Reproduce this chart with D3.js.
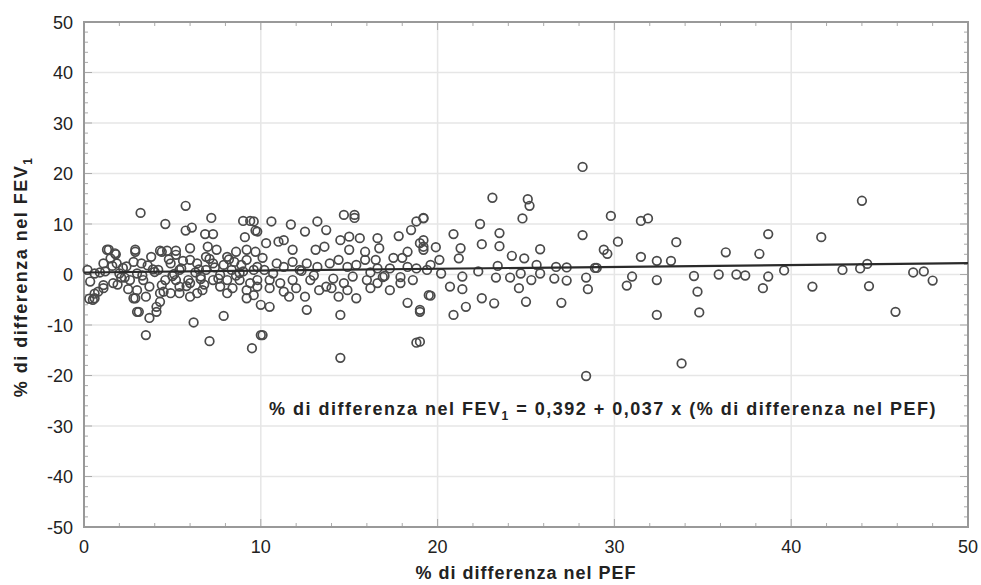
<!DOCTYPE html>
<html>
<head>
<meta charset="utf-8">
<script src="https://cdnjs.cloudflare.com/ajax/libs/d3/7.8.5/d3.min.js"></script>
<style>
  body { margin: 0; background: #fff; }
  text { font-family: "Liberation Sans", Arial, sans-serif; fill: #222; }
</style>
</head>
<body>
<svg id="chart" width="981" height="585"></svg>
<script>

// % difference in PEF (x) and FEV1 (y)
const pefDiff = [
  3.2, 5.75, 4.6, 5.75, 6.1, 7.2, 6.85, 7.3, 9.0, 9.4, 9.1, 9.7, 7.0, 1.4, 1.8, 2.9, 4.3, 5.2, 4.7,
  0.6, 1.1, 1.9, 2.9, 3.0, 3.7, 4.1, 3.5, 6.2, 7.9, 7.1, 9.5, 10.0, 6.4, 6.7, 8.1, 9.2, 4.3, 4.9, 5.4,
  10.6, 9.6, 9.8, 11.7, 12.5, 13.2, 13.7, 14.7, 15.3, 15.3, 17.8, 18.5, 18.8, 19.2,
  10.3, 11.0, 11.3, 11.8, 13.1, 13.6, 14.5, 15.0, 15.6, 15.0, 15.9, 16.6, 16.7, 16.5, 17.5, 18.0, 18.3, 19.0, 19.2,
  10.0, 10.5, 9.6, 11.6, 12.6, 12.5, 14.5, 14.4, 15.4, 16.2, 17.3, 18.3, 19.0, 19.5, 10.1, 14.5, 18.8,
  13.7, 13.3, 12.8, 16.0, 16.9, 17.9, 10.1, 10.9,
  28.2, 23.1, 25.1, 25.2, 19.2, 24.8, 22.4, 28.2, 20.9, 23.5, 22.5, 23.5, 21.3, 19.9, 19.2, 19.2,
  25.8, 24.2, 24.9, 21.2, 25.6, 23.4, 26.7, 27.3, 28.9, 20.1, 19.6, 22.3, 20.2, 21.4, 23.3, 24.7, 24.1,
  25.3, 25.8, 26.6, 27.3, 28.4, 28.5, 20.7, 21.4, 24.6, 19.6, 22.5, 23.2, 25.0, 27.0, 21.6, 20.9, 19.0, 19.0, 28.4,
  29.8, 31.5, 31.9, 30.2, 29.4, 29.6, 33.5, 31.5, 32.4, 33.2, 36.3, 38.2, 38.7, 29.0, 39.6,
  31.0, 30.7, 32.4, 34.5, 34.7, 34.8, 32.4, 35.9, 36.9, 37.4, 38.7, 38.4, 33.8,
  44.0, 41.7, 41.2, 42.9, 43.9, 44.3, 44.4, 46.9, 47.5, 48.0, 45.9,
  1.3, 1.75, 1.1, 1.85, 0.6, 1.2, 2.0, 0.35, 1.1, 1.65, 0.8, 0.5, 2.9, 2.8, 3.25, 3.0, 2.6, 3.35, 3.0, 3.7,
  2.8, 3.5, 3.8, 4.2, 4.4, 4.9, 5.2, 5.5, 4.6, 5.2, 5.9, 4.5, 5.4, 6.0, 4.3, 6.0, 6.0, 4.1, 3.1,
  7.5, 8.1, 8.6, 9.2, 9.7, 7.3, 7.9, 8.5, 9.2, 6.9, 7.7, 8.35, 9.0, 9.6, 7.3, 8.1, 8.8, 9.4, 7.7, 8.4,
  9.2, 9.8, 6.4, 6.6, 6.0, 5.4, 6.9,
  9.8, 10.2, 10.7, 11.3, 11.8, 12.2, 12.6, 13.2, 13.9, 14.4, 14.9, 15.4, 15.9, 9.8, 10.5, 11.1, 11.8,
  12.0, 11.3, 10.5, 14.1, 14.7, 15.2, 14.0, 14.9, 16.6, 17.3, 18.3, 18.8, 19.4, 17.9, 18.6, 16.6,
  0.2, 0.3, 0.6, 0.9, 2.3, 2.2, 1.5, 4.0, 5.0, 6.5, 7.6, 8.8, 12.3, 13.0, 16.2, 17.0,
  2.4, 3.9, 4.8, 5.6, 6.3, 7.1, 8.2, 2.1, 3.3, 4.4, 5.1, 6.8, 7.4, 8.6, 1.6, 2.5, 3.6, 5.8, 6.6, 8.9
];
const fevDiff = [
  12.2, 13.6, 10.0, 8.7, 9.3, 11.2, 8.0, 8.0, 10.6, 10.6, 7.4, 8.7, 5.5, 4.9, 4.0, 4.9, 4.7, 4.7, 4.7,
  -4.7, -2.7, -2.0, -4.7, -7.4, -8.6, -7.4, -12.0, -9.5, -8.2, -13.2, -14.6, -12.0, -3.7, -3.1, -3.7, -4.7, -3.7, -3.7, -2.4,
  10.5, 10.5, 8.5, 9.9, 8.5, 10.5, 8.8, 11.8, 11.8, 11.2, 7.6, 8.8, 10.5, 11.2,
  6.2, 6.5, 6.8, 4.9, 4.9, 5.5, 6.8, 7.5, 7.2, 4.9, 4.5, 7.2, 5.2, 2.9, 3.3, 3.3, 4.5, 6.2, 4.9,
  -6.0, -6.4, -4.1, -4.4, -7.0, -4.4, -8.0, -4.4, -4.7, -2.7, -3.1, -5.6, -7.0, -4.1, -12.0, -16.5, -13.5,
  -2.4, -3.1, -1.1, -1.1, -0.5, -0.5, 3.3, 2.2,
  21.3, 15.2, 14.9, 13.6, 11.1, 11.1, 10.0, 7.8, 8.0, 8.2, 6.0, 5.6, 5.2, 5.4, 6.8, 5.5,
  5.0, 3.7, 3.2, 3.2, 1.9, 1.7, 1.5, 1.4, 1.3, 2.9, 1.9, 0.6, 0.2, -0.4, -0.6, 0.2, -0.6,
  -1.1, 0.2, -0.8, -1.2, -0.6, -2.9, -2.4, -2.9, -2.7, -4.2, -4.7, -5.7, -5.4, -5.6, -6.4, -8.0, -7.4, -13.3, -20.1,
  11.6, 10.6, 11.1, 6.5, 4.9, 4.1, 6.4, 3.5, 2.7, 2.7, 4.4, 4.1, 8.0, 1.3, 0.8,
  -0.4, -2.2, -1.1, -0.3, -3.4, -7.5, -8.0, 0.0, 0.0, -0.2, -0.4, -2.7, -17.6,
  14.6, 7.4, -2.4, 0.9, 1.2, 2.1, -2.3, 0.4, 0.6, -1.2, -7.4,
  4.9, 4.2, 2.2, 2.2, 0.2, 0.6, 0.2, -1.4, -2.1, -1.7, -3.4, -5.0, 4.5, 2.5, 2.2, 0.2, -1.1, -1.1, -3.1, -2.4,
  -4.7, -4.4, 3.5, 0.9, 4.5, 2.2, 3.9, 1.2, -1.1, -1.1, -1.1, -3.4, -3.7, -4.4, -5.4, 5.2, 2.9, -6.4, -7.4,
  4.9, 3.5, 4.5, 4.9, 4.5, 2.2, 1.9, 2.5, 2.9, 0.9, -0.1, 0.9, 0.6, 0.9, -1.1, -1.1, -1.1, -1.7, -2.4, -2.7,
  -3.1, -2.4, 2.2, -0.4, -1.7, 0.9, 3.5,
  1.5, 0.9, 0.2, 1.5, 2.5, 0.9, 2.2, 1.5, 2.2, 2.9, 1.5, 1.9, 2.9, -1.1, -1.1, -1.7, -1.1,
  -2.7, -3.4, -2.7, -0.8, -1.7, -0.4, -2.7, -3.1, 1.2, 1.2, 1.5, 1.2, 0.9, -1.7, -1.1, -1.7,
  0.9, -4.8, -3.8, 0.4, -0.6, 1.3, 3.2, 0.5, -0.3, 1.0, -0.8, 0.3, 0.7, -0.2, 0.4, -0.3,
  1.6, 1.0, 3.0, 2.7, 0.4, 3.1, 3.0, -0.6, -0.2, -2.1, 0.1, -2.0, 1.4, -0.2, 1.7, -2.9, 1.8, -2.3, -0.9, 1.9
];

const xTicks = [0, 10, 20, 30, 40, 50];
const yTicks = [-50, -40, -30, -20, -10, 0, 10, 20, 30, 40, 50];
const intercept = 0.392, slope = 0.037;

const svg = d3.select('#chart');
const pLeft = 84, pRight = 968, pTop = 22, pBottom = 527;

const x = d3.scaleLinear().domain([0, 50]).range([pLeft, pRight]);
const y = d3.scaleLinear().domain([-50, 50]).range([pBottom, pTop]);

// grid
svg.append('g')
  .selectAll('line')
  .data(xTicks.slice(1, -1))
  .enter().append('line')
  .attr('x1', d => x(d)).attr('x2', d => x(d))
  .attr('y1', pTop).attr('y2', pBottom)
  .attr('stroke', '#e6e6e6').attr('stroke-width', 1.5);

svg.append('g')
  .selectAll('line')
  .data(yTicks.slice(1, -1))
  .enter().append('line')
  .attr('x1', pLeft).attr('x2', pRight)
  .attr('y1', d => y(d)).attr('y2', d => y(d))
  .attr('stroke', '#e6e6e6').attr('stroke-width', 1.5);

// minor ticks, pointing inward
const minorX = d3.range(0, 50.01, 2);
const minorY = d3.range(-50, 50.01, 2);
svg.append('g').selectAll('line').data(minorY).enter().append('line')
  .attr('x1', pLeft).attr('x2', d => pLeft + (d % 10 === 0 ? 8 : 4))
  .attr('y1', d => y(d)).attr('y2', d => y(d))
  .attr('stroke', '#aaa').attr('stroke-width', 1);
svg.append('g').selectAll('line').data(minorY).enter().append('line')
  .attr('x1', pRight).attr('x2', d => pRight - (d % 10 === 0 ? 8 : 4))
  .attr('y1', d => y(d)).attr('y2', d => y(d))
  .attr('stroke', '#aaa').attr('stroke-width', 1);
svg.append('g').selectAll('line').data(minorX).enter().append('line')
  .attr('x1', d => x(d)).attr('x2', d => x(d))
  .attr('y1', pBottom).attr('y2', d => pBottom - (d % 10 === 0 ? 8 : 4))
  .attr('stroke', '#aaa').attr('stroke-width', 1);
svg.append('g').selectAll('line').data(minorX).enter().append('line')
  .attr('x1', d => x(d)).attr('x2', d => x(d))
  .attr('y1', pTop).attr('y2', d => pTop + (d % 10 === 0 ? 8 : 4))
  .attr('stroke', '#aaa').attr('stroke-width', 1);

// frame
svg.append('rect')
  .attr('x', pLeft).attr('y', pTop)
  .attr('width', pRight - pLeft).attr('height', pBottom - pTop)
  .attr('fill', 'none').attr('stroke', '#999').attr('stroke-width', 2);

// tick labels
svg.append('g').selectAll('text').data(yTicks).enter().append('text')
  .attr('x', pLeft - 11).attr('y', d => y(d) + 6.5)
  .attr('text-anchor', 'end').attr('font-size', 18)
  .text(d => d);

svg.append('g').selectAll('text').data(xTicks).enter().append('text')
  .attr('x', d => x(d)).attr('y', pBottom + 26)
  .attr('text-anchor', 'middle').attr('font-size', 18)
  .text(d => d);

// points
const pts = pefDiff.map((d, i) => ({ px: d, fy: fevDiff[i] }));
svg.append('g').selectAll('circle').data(pts).enter().append('circle')
  .attr('cx', d => x(d.px)).attr('cy', d => y(d.fy))
  .attr('r', 4.3)
  .attr('fill', 'none').attr('stroke', '#4a4a4a').attr('stroke-width', 1.7);

// regression line
const line = d3.line().x(d => x(d)).y(d => y(intercept + slope * d));
svg.append('path')
  .attr('d', line([0, 50]))
  .attr('fill', 'none').attr('stroke', '#2a2a2a').attr('stroke-width', 2.2);

// equation
const eq = svg.append('text')
  .attr('x', 269).attr('y', 415)
  .attr('font-size', 18).attr('font-weight', 'bold')
  .attr('letter-spacing', 1.5);
eq.append('tspan').text('% di differenza nel FEV');
eq.append('tspan').attr('dy', 5).attr('font-size', 12).text('1');
eq.append('tspan').attr('dy', -5).text(' = 0,392 + 0,037 x (% di differenza nel PEF)');

// axis titles
svg.append('text')
  .attr('x', 526).attr('y', 579)
  .attr('text-anchor', 'middle').attr('font-size', 18).attr('font-weight', 'bold')
  .attr('letter-spacing', 1)
  .text('% di differenza nel PEF');

const yt = svg.append('text')
  .attr('transform', 'translate(27,277) rotate(-90)')
  .attr('text-anchor', 'middle').attr('font-size', 18).attr('font-weight', 'bold')
  .attr('letter-spacing', 1.5);
yt.append('tspan').text('% di differenza nel FEV');
yt.append('tspan').attr('dy', 5).attr('font-size', 12).text('1');

</script>
</body>
</html>
